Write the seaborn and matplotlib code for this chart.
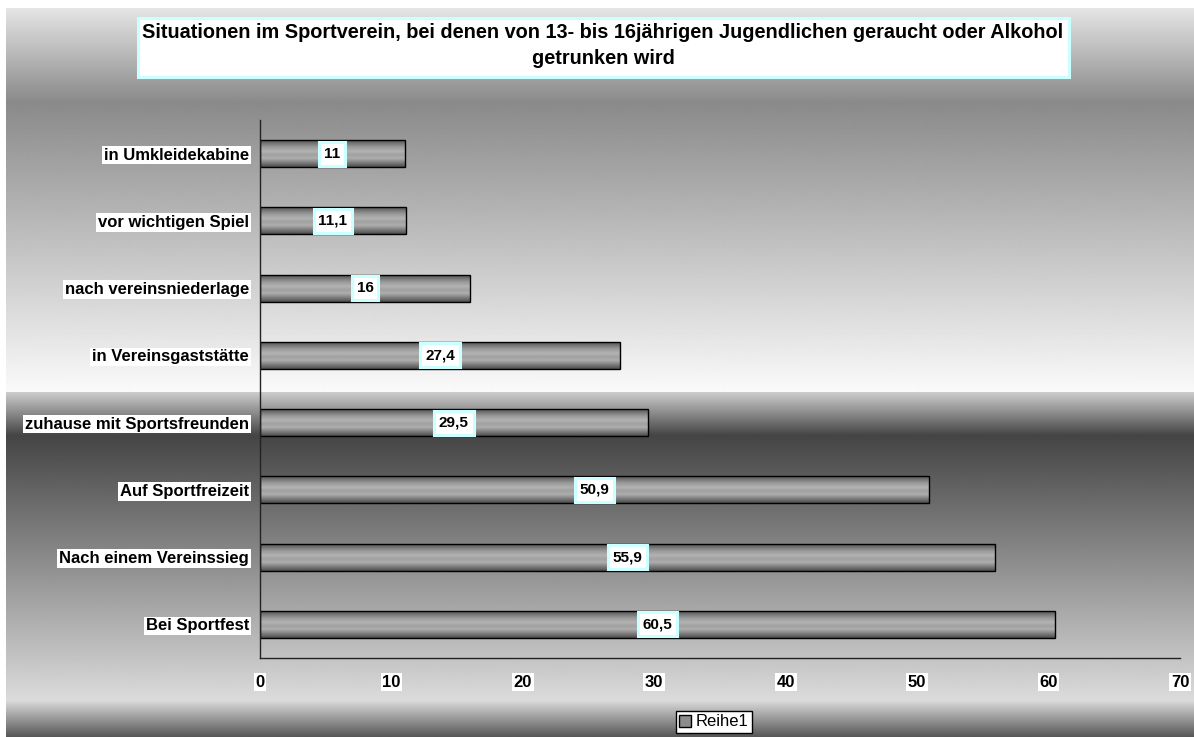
import numpy as np
import pandas as pd
import matplotlib
matplotlib.use("Agg")
import matplotlib.pyplot as plt
import seaborn as sns
from matplotlib.patches import Rectangle, Patch

# chart data
categories = ["in Umkleidekabine", "vor wichtigen Spiel", "nach vereinsniederlage",
              "in Vereinsgaststätte", "zuhause mit Sportsfreunden", "Auf Sportfreizeit",
              "Nach einem Vereinssieg", "Bei Sportfest"]
values = [11, 11.1, 16, 27.4, 29.5, 50.9, 55.9, 60.5]
value_labels = ["11", "11,1", "16", "27,4", "29,5", "50,9", "55,9", "60,5"]
x_ticks = [0, 10, 20, 30, 40, 50, 60, 70]
title_lines = ["Situationen im Sportverein, bei denen von 13- bis 16jährigen Jugendlichen geraucht oder Alkohol",
               "getrunken wird"]
series_name = "Reihe1"

W, H = 1194, 737

sns.set_theme(style="white")
plt.rcParams["font.family"] = ["Liberation Sans", "DejaVu Sans"]


def fx(x):
    return x / W


def fy(y):
    return 1 - y / H


def ramp(stops, n):
    pos = [s[0] for s in stops]
    val = [s[1] for s in stops]
    return np.interp(np.arange(n), pos, val)


fig = plt.figure(figsize=(W / 100, H / 100), dpi=100)
fig.patch.set_facecolor("white")

# background gradient (excel style)
bg = fig.add_axes([0, 0, 1, 1], zorder=-10)
bg_stops = [(8, 0.90), (102, 0.54), (391, 0.98), (392, 0.80), (435, 0.27),
            (700, 0.86), (737, 0.33)]
col = ramp(bg_stops, H)[8:]
bg.imshow(np.repeat(col[:, None], 2, axis=1), cmap="gray", vmin=0, vmax=1,
          aspect="auto", extent=(6, W, H, 8), interpolation="bilinear")
bg.set_xlim(0, W)
bg.set_ylim(H, 0)
bg.axis("off")

# plot area
ax = fig.add_axes([fx(260), fy(658), 920 / W, 538 / H])
ax.patch.set_alpha(0)
df = pd.DataFrame({"situation": categories, "wert": values})
sns.barplot(data=df, x="wert", y="situation", orient="h", width=0.4,
            color="#999999", saturation=1, ax=ax)

bar_stops = [(0, 0.33), (25, 0.60), (42, 0.70), (55, 0.63), (68, 0.68), (100, 0.30)]
bar_grad = ramp(bar_stops, 101)
for p in ax.patches:
    x0, y0 = p.get_x(), p.get_y()
    w, h = p.get_width(), p.get_height()
    im = ax.imshow(np.repeat(bar_grad[:, None], 2, axis=1), cmap="gray", vmin=0, vmax=1,
                   aspect="auto", extent=(x0, x0 + w, y0 + h, y0),
                   interpolation="bilinear", zorder=1)
    im.set_clip_path(p)
    p.set_facecolor("none")
    p.set_edgecolor("black")
    p.set_linewidth(1)
    p.set_zorder(2)

for i, (v, lab) in enumerate(zip(values, value_labels)):
    ax.text(v / 2, i, lab, ha="center", va="center", fontsize=11, fontweight="bold",
            color="black", zorder=5,
            bbox=dict(boxstyle="square,pad=0.32", fc="white", ec="#ccffff", lw=2.2))

ax.set_xlim(0, 70)
ax.set_ylim(7.5, -0.5)
ax.set_xticks(x_ticks)
ax.set_xticklabels([str(t) for t in x_ticks])
ax.set_xlabel("")
ax.set_ylabel("")
for s in ["top", "right"]:
    ax.spines[s].set_visible(False)
for s in ["left", "bottom"]:
    ax.spines[s].set_color("#222222")
    ax.spines[s].set_linewidth(1)
ax.tick_params(axis="x", length=4, width=1, color="#222222", direction="out",
               pad=8, labelsize=12)
ax.tick_params(axis="y", length=0, pad=8, labelsize=12)
for t in ax.get_xticklabels() + ax.get_yticklabels():
    t.set_fontweight("bold")
    t.set_color("black")
    t.set_bbox(dict(boxstyle="square,pad=0.1", fc="white", ec="none"))

# title box
fig.add_artist(Rectangle((fx(138), fy(77)), 931 / W, 59 / H, transform=fig.transFigure,
                         fc="white", ec="#ccffff", lw=2.2))
fig.text(fx(603), fy(33), title_lines[0], ha="center", va="center",
         fontsize=14.3, fontweight="bold", color="black")
fig.text(fx(603), fy(58), title_lines[1], ha="center", va="center",
         fontsize=14.3, fontweight="bold", color="black")

# legend
leg = fig.legend(handles=[Patch(fc="#8c8c8c", ec="black", label=series_name)],
                 loc="center", bbox_to_anchor=(fx(714), fy(722)), fontsize=12,
                 frameon=True, fancybox=False, edgecolor="black", framealpha=1,
                 handlelength=0.7, handleheight=0.7, handletextpad=0.3,
                 borderpad=0.2, borderaxespad=0)
leg.get_frame().set_linewidth(1)
for t in leg.get_texts():
    t.set_color("black")

fig.savefig("out.png", dpi=100)
